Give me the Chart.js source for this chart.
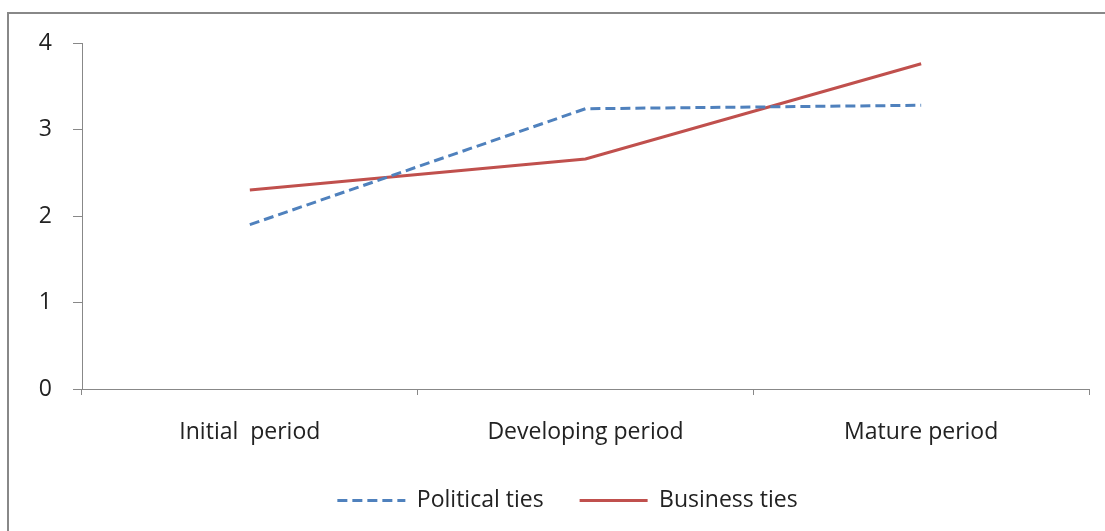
<!DOCTYPE html>
<html>
<head>
<meta charset="utf-8">
<script src="https://cdn.jsdelivr.net/npm/chart.js@4/dist/chart.umd.min.js"></script>
<style>
  html, body { margin: 0; padding: 0; background: #fff; overflow: hidden; }
  #frame { position: absolute; left: 7px; top: 12px; width: 1200px; height: 600px; border: 2px solid #888; }
  #wrap { position: absolute; left: 0; top: 0; width: 1105px; height: 531px; }
</style>
</head>
<body>
<div id="frame"></div>
<div id="wrap"><canvas id="c" width="1105" height="531"></canvas></div>
<script>
const categories = ['Initial  period', 'Developing period', 'Mature period'];
const politicalTies = [1.90, 3.24, 3.28];
const businessTies = [2.30, 2.66, 3.76];
const yTicks = [0, 1, 2, 3, 4];

const FONT = { family: '"Open Sans", sans-serif', size: 23 };
const AXIS = '#888888';
const TEXT = '#222222';

const shiftLegend = {
  id: 'shiftLegend',
  afterLayout(chart) {
    if (chart.legend) {
      chart.legend.left += 23;
      chart.legend.right += 23;
    }
  }
};

new Chart(document.getElementById('c'), {
  type: 'line',
  data: {
    labels: categories,
    datasets: [
      {
        label: 'Political ties',
        data: politicalTies,
        borderColor: '#4F81BD',
        backgroundColor: '#4F81BD',
        borderWidth: 3,
        borderDash: [10, 5],
        pointRadius: 0,
        tension: 0,
        fill: false
      },
      {
        label: 'Business ties',
        data: businessTies,
        borderColor: '#C0504D',
        backgroundColor: '#C0504D',
        borderWidth: 3,
        pointRadius: 0,
        tension: 0,
        fill: false
      }
    ]
  },
  plugins: [shiftLegend],
  options: {
    responsive: false,
    animation: false,
    devicePixelRatio: 1,
    layout: { padding: { top: 43, right: 16, left: 0, bottom: 9 } },
    plugins: {
      tooltip: { enabled: false },
      legend: {
        position: 'bottom',
        labels: {
          usePointStyle: true,
          pointStyle: 'line',
          pointStyleWidth: 68,
          boxHeight: 23,
          padding: 36,
          color: TEXT,
          font: FONT,
          generateLabels: (chart) => {
            const items = Chart.defaults.plugins.legend.labels.generateLabels(chart);
            items.forEach((it) => {
              const ds = chart.data.datasets[it.datasetIndex];
              it.lineDash = ds.borderDash || [];
              it.lineWidth = 3;
              it.strokeStyle = ds.borderColor;
            });
            return items;
          }
        }
      }
    },
    scales: {
      x: {
        offset: true,
        grid: { offset: true, drawOnChartArea: false, drawTicks: true, tickLength: 6, tickColor: AXIS },
        border: { display: true, color: AXIS, width: 1 },
        ticks: { color: TEXT, font: FONT, padding: 24, maxRotation: 0, autoSkip: false },
        afterFit: (s) => { s.height = 64; }
      },
      y: {
        min: 0,
        max: 4,
        afterBuildTicks: (s) => { s.ticks = yTicks.map(v => ({ value: v })); },
        grid: { drawOnChartArea: false, drawTicks: true, tickLength: 9, tickColor: AXIS },
        border: { display: true, color: AXIS, width: 1 },
        ticks: { color: TEXT, font: FONT, padding: 21 },
        afterFit: (s) => { s.width = 82; }
      }
    }
  }
});
</script>
</body>
</html>
